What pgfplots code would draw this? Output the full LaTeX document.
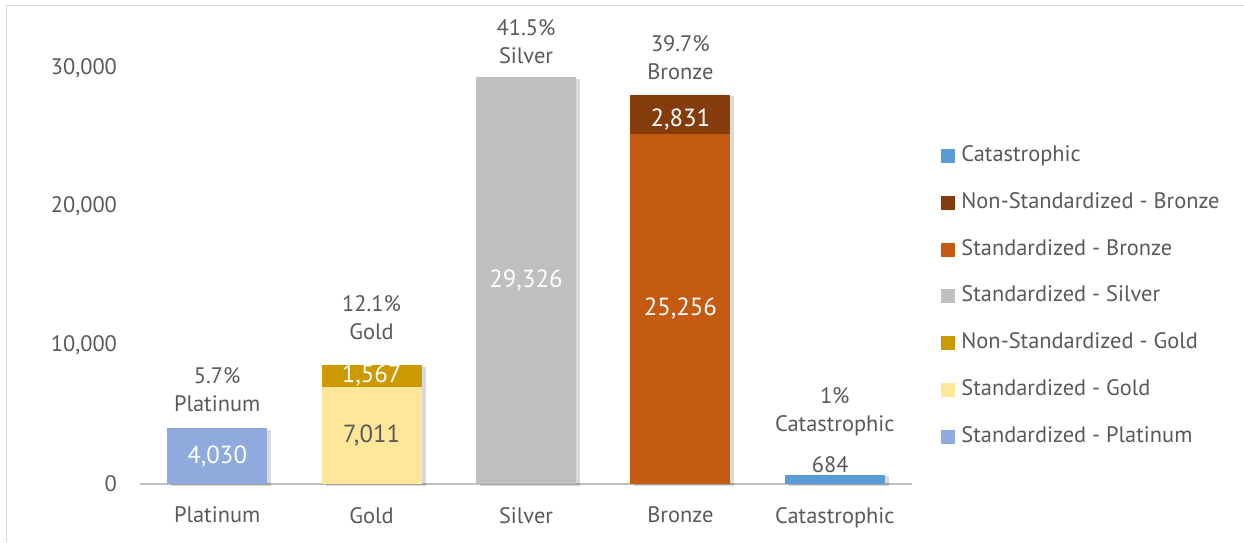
\documentclass[border=0pt]{standalone}
\usepackage{fontspec}
\setmainfont{PT Sans}
\usepackage{pgfplots}
\pgfplotsset{compat=1.18}
\usetikzlibrary{shadows}
\definecolor{txt}{HTML}{595959}
\definecolor{framec}{HTML}{D9D9D9}
\definecolor{basec}{HTML}{BFBFBF}
\definecolor{cPlat}{HTML}{8FAADC}
\definecolor{cGoldS}{HTML}{FFE699}
\definecolor{cGoldN}{HTML}{CC9A00}
\definecolor{cSilv}{HTML}{BFBFBF}
\definecolor{cBronS}{HTML}{C55A11}
\definecolor{cBronN}{HTML}{843C0C}
\definecolor{cCat}{HTML}{5B9BD5}

\begin{document}
\begin{tikzpicture}[font=\fontsize{11.2}{14}\selectfont, text=txt,
  inbar/.style={font=\fontsize{12.4}{14}\selectfont}]
\useasboundingbox (-70pt,-29pt) rectangle (552pt,242pt);
\draw[framec, line width=0.75pt] (-66.75pt,-29pt) -- (-66.75pt,239.25pt) -- (552pt,239.25pt);
\begin{axis}[
  scale only axis, width=386pt, height=221.85pt,
  xmin=-0.5, xmax=4.5, ymin=0, ymax=32000,
  ybar stacked, bar width=50pt,
  axis x line*=bottom, axis y line*=left,
  x axis line style={draw=basec, line width=0.75pt, -},
  y axis line style={draw=none},
  major tick length=0pt,
  xtick={0,1,2,3,4},
  xticklabels={Platinum,Gold,Silver,Bronze,Catastrophic},
  ytick={0,10000,20000,30000},
  scaled y ticks=false,
  /pgf/number format/.cd, 1000 sep={,}, assume math mode=true, /pgfplots/.cd,
  ticklabel style={text=txt, font=\fontsize{11.2}{14}\selectfont},
  yticklabel style={xshift=-8pt},
  xticklabel style={yshift=-8pt},
  clip=false,
  legend image code/.code={\fill[#1] (0pt,-3.5pt) rectangle (7pt,3.5pt);},
  legend style={at={(rel axis cs:1.0376,0.764)}, anchor=north west, draw=none,
    fill=none, inner sep=0pt, row sep=12.9pt,
    nodes={inner sep=0pt, text height=8pt, text depth=2.5pt, text=txt},
    /tikz/every odd column/.append style={column sep=3pt}},
  legend cell align=left,
  sh/.style={fill=#1, draw=none, forget plot,
    drop shadow={shadow xshift=2pt, shadow yshift=-0.75pt, opacity=0.15, fill=black}},
]
% Standardized - Platinum
\addplot[sh=cPlat] coordinates {(0,4030) (1,0) (2,0) (3,0) (4,0)};
% Standardized - Gold
\addplot[sh=cGoldS] coordinates {(0,0) (1,7011) (2,0) (3,0) (4,0)};
% Non-Standardized - Gold
\addplot[sh=cGoldN] coordinates {(0,0) (1,1567) (2,0) (3,0) (4,0)};
% Standardized - Silver
\addplot[sh=cSilv] coordinates {(0,0) (1,0) (2,29326) (3,0) (4,0)};
% Standardized - Bronze
\addplot[sh=cBronS] coordinates {(0,0) (1,0) (2,0) (3,25256) (4,0)};
% Non-Standardized - Bronze
\addplot[sh=cBronN] coordinates {(0,0) (1,0) (2,0) (3,2831) (4,0)};
% Catastrophic
\addplot[sh=cCat] coordinates {(0,0) (1,0) (2,0) (3,0) (4,684)};

\addlegendimage{fill=cCat, draw=none}
\addlegendentry{Catastrophic}
\addlegendimage{fill=cBronN, draw=none}
\addlegendentry{Non-Standardized - Bronze}
\addlegendimage{fill=cBronS, draw=none}
\addlegendentry{Standardized - Bronze}
\addlegendimage{fill=cSilv, draw=none}
\addlegendentry{Standardized - Silver}
\addlegendimage{fill=cGoldN, draw=none}
\addlegendentry{Non-Standardized - Gold}
\addlegendimage{fill=cGoldS, draw=none}
\addlegendentry{Standardized - Gold}
\addlegendimage{fill=cPlat, draw=none}
\addlegendentry{Standardized - Platinum}

% anchor points for the labels, drawn after the axis
\coordinate (v1) at (axis cs:0,2015);
\coordinate (v2) at (axis cs:1,3505);
\coordinate (v3) at (axis cs:1,7794);
\coordinate (v4) at (axis cs:2,14663);
\coordinate (v5) at (axis cs:3,12628);
\coordinate (v6) at (axis cs:3,26322);
\coordinate (v7) at (axis cs:3.97,1370);
\coordinate (p1) at (axis cs:0,6815);
\coordinate (p2) at (axis cs:1,11971);
\coordinate (p3) at (axis cs:2,31874);
\coordinate (p4) at (axis cs:3,30721);
\coordinate (p5) at (axis cs:4,5192);
\end{axis}
% segment values
\node[inbar, text=white] at (v1) {4,030};
\node[inbar] at (v2) {7,011};
\node[inbar, text=white] at (v3) {1,567};
\node[inbar, text=white] at (v4) {29,326};
\node[inbar, text=white] at (v5) {25,256};
\node[inbar, text=white] at (v6) {2,831};
\node at (v7) {684};
% share labels
\node[align=center] at (p1) {5.7\%\\Platinum};
\node[align=center] at (p2) {12.1\%\\Gold};
\node[align=center] at (p3) {41.5\%\\Silver};
\node[align=center] at (p4) {39.7\%\\Bronze};
\node[align=center] at (p5) {1\%\\Catastrophic};
\end{tikzpicture}
\end{document}
